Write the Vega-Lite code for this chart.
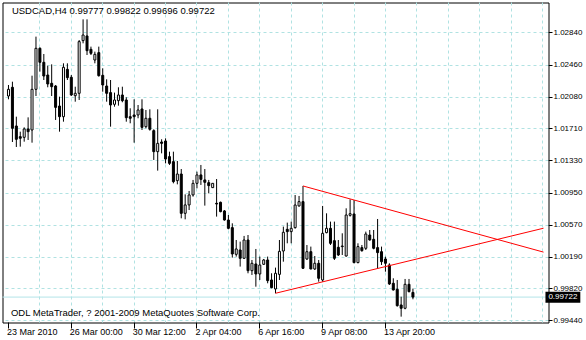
{
  "$schema": "https://vega.github.io/schema/vega-lite/v6.json",
  "width": 546,
  "height": 320,
  "autosize": {"type": "none"},
  "padding": {"left": 2.5, "top": 2.5, "right": 37.5, "bottom": 17.5},
  "background": "white",
  "config": {
    "view": {"stroke": "black", "strokeWidth": 1},
    "axis": {"translate": 0},
    "font": "Liberation Sans"
  },
  "resolve": {"axis": {"x": "independent", "y": "independent"}},
  "datasets": {
    "bars": [
      {"i":0,"o":1.02096,"h":1.02226,"l":1.02057,"c":1.02175},
      {"i":1,"o":1.02199,"h":1.02265,"l":1.01553,"c":1.01715},
      {"i":2,"o":1.01742,"h":1.01852,"l":1.01494,"c":1.01585},
      {"i":3,"o":1.01616,"h":1.01675,"l":1.01498,"c":1.01597},
      {"i":4,"o":1.01608,"h":1.01726,"l":1.01557,"c":1.01707},
      {"i":5,"o":1.01707,"h":1.01844,"l":1.01577,"c":1.01675},
      {"i":6,"o":1.01695,"h":1.02336,"l":1.01545,"c":1.02175},
      {"i":7,"o":1.02175,"h":1.02797,"l":1.02096,"c":1.02659},
      {"i":8,"o":1.02659,"h":1.02671,"l":1.02384,"c":1.02494},
      {"i":9,"o":1.02494,"h":1.02592,"l":1.02285,"c":1.02332},
      {"i":10,"o":1.02344,"h":1.02454,"l":1.02199,"c":1.02238},
      {"i":11,"o":1.02246,"h":1.0247,"l":1.02096,"c":1.02206},
      {"i":12,"o":1.02214,"h":1.02226,"l":1.01813,"c":1.01962},
      {"i":13,"o":1.01978,"h":1.02088,"l":1.01675,"c":1.01852},
      {"i":14,"o":1.01852,"h":1.02482,"l":1.01793,"c":1.02435},
      {"i":15,"o":1.02411,"h":1.02482,"l":1.02285,"c":1.02313},
      {"i":16,"o":1.02317,"h":1.02344,"l":1.02096,"c":1.02108},
      {"i":17,"o":1.021,"h":1.02206,"l":1.02029,"c":1.02128},
      {"i":18,"o":1.02128,"h":1.02757,"l":1.02049,"c":1.02738},
      {"i":19,"o":1.0275,"h":1.03001,"l":1.02718,"c":1.02816},
      {"i":20,"o":1.02805,"h":1.03001,"l":1.0258,"c":1.02631},
      {"i":21,"o":1.02647,"h":1.02679,"l":1.0258,"c":1.026},
      {"i":22,"o":1.02521,"h":1.0262,"l":1.02482,"c":1.02588},
      {"i":23,"o":1.02608,"h":1.02679,"l":1.02325,"c":1.02336},
      {"i":24,"o":1.0234,"h":1.02423,"l":1.02147,"c":1.02226},
      {"i":25,"o":1.02214,"h":1.02293,"l":1.02029,"c":1.02128},
      {"i":26,"o":1.02136,"h":1.02285,"l":1.01734,"c":1.0199},
      {"i":27,"o":1.01998,"h":1.02136,"l":1.0197,"c":1.02049},
      {"i":28,"o":1.02041,"h":1.02199,"l":1.01982,"c":1.02108},
      {"i":29,"o":1.02108,"h":1.02206,"l":1.02022,"c":1.02041},
      {"i":30,"o":1.02049,"h":1.02081,"l":1.01793,"c":1.0184},
      {"i":31,"o":1.01852,"h":1.01951,"l":1.01774,"c":1.01833},
      {"i":32,"o":1.01872,"h":1.02057,"l":1.01545,"c":1.01852},
      {"i":33,"o":1.01872,"h":1.0199,"l":1.01833,"c":1.01931},
      {"i":34,"o":1.01943,"h":1.02057,"l":1.01695,"c":1.01726},
      {"i":35,"o":1.01734,"h":1.01931,"l":1.01715,"c":1.01833},
      {"i":36,"o":1.01833,"h":1.01939,"l":1.01687,"c":1.01703},
      {"i":37,"o":1.01687,"h":1.01703,"l":1.01341,"c":1.01439},
      {"i":38,"o":1.01439,"h":1.01939,"l":1.01215,"c":1.01537},
      {"i":39,"o":1.01553,"h":1.01585,"l":1.01419,"c":1.01537},
      {"i":40,"o":1.01565,"h":1.01596,"l":1.01301,"c":1.01352},
      {"i":41,"o":1.0138,"h":1.01439,"l":1.01282,"c":1.01301},
      {"i":42,"o":1.01321,"h":1.01439,"l":1.01065,"c":1.01085},
      {"i":43,"o":1.01097,"h":1.01329,"l":1.01053,"c":1.01175},
      {"i":44,"o":1.01175,"h":1.01234,"l":1.00652,"c":1.00711},
      {"i":45,"o":1.00711,"h":1.00935,"l":1.0064,"c":1.0081},
      {"i":46,"o":1.0081,"h":1.00975,"l":1.0075,"c":1.00928},
      {"i":47,"o":1.00928,"h":1.01105,"l":1.00908,"c":1.01065},
      {"i":48,"o":1.01065,"h":1.01203,"l":1.01006,"c":1.01164},
      {"i":49,"o":1.01164,"h":1.01282,"l":1.01046,"c":1.01112},
      {"i":50,"o":1.01105,"h":1.01234,"l":1.00802,"c":1.01077},
      {"i":51,"o":1.01073,"h":1.01105,"l":1.00947,"c":1.01038},
      {"i":52,"o":1.01014,"h":1.01068,"l":1.0101,"c":1.01065},
      {"i":53,"o":1.00829,"h":1.01116,"l":1.00672,"c":1.00821},
      {"i":54,"o":1.00841,"h":1.00849,"l":1.00723,"c":1.00731},
      {"i":55,"o":1.00739,"h":1.0075,"l":1.00625,"c":1.00632},
      {"i":56,"o":1.00632,"h":1.00691,"l":1.00522,"c":1.00534},
      {"i":57,"o":1.00542,"h":1.00593,"l":1.00188,"c":1.00231},
      {"i":58,"o":1.00227,"h":1.00396,"l":1.002,"c":1.0029},
      {"i":59,"o":1.00278,"h":1.00377,"l":1.00082,"c":1.0018},
      {"i":60,"o":1.0018,"h":1.00444,"l":1.00172,"c":1.00396},
      {"i":61,"o":1.00396,"h":1.00455,"l":1.00003,"c":1.00034},
      {"i":62,"o":1.00034,"h":1.0016,"l":0.99983,"c":1.00121},
      {"i":63,"o":1.00113,"h":1.0029,"l":0.99845,"c":0.99995},
      {"i":64,"o":0.99995,"h":1.002,"l":0.99924,"c":1.00101},
      {"i":65,"o":1.00109,"h":1.00172,"l":1.00101,"c":1.0016},
      {"i":66,"o":1.0016,"h":1.002,"l":0.99885,"c":0.99916},
      {"i":67,"o":0.99924,"h":1.00003,"l":0.99826,"c":0.99834},
      {"i":68,"o":0.99818,"h":1.0007,"l":0.99767,"c":1.00003},
      {"i":69,"o":0.9999,"h":1.00396,"l":0.99924,"c":1.00262},
      {"i":70,"o":1.00266,"h":1.00554,"l":1.0014,"c":1.00487},
      {"i":71,"o":1.00522,"h":1.00601,"l":1.00357,"c":1.00495},
      {"i":72,"o":1.00495,"h":1.00613,"l":1.00357,"c":1.00534},
      {"i":73,"o":1.00542,"h":1.00927,"l":1.0053,"c":1.00809},
      {"i":74,"o":1.00798,"h":1.00916,"l":1.0079,"c":1.00849},
      {"i":75,"o":1.00849,"h":1.01034,"l":1.00054,"c":1.00062},
      {"i":76,"o":1.00172,"h":1.00337,"l":1.0016,"c":1.00258},
      {"i":77,"o":1.00258,"h":1.00318,"l":1.0005,"c":1.00054},
      {"i":78,"o":1.00054,"h":1.00207,"l":1.00042,"c":1.00121},
      {"i":79,"o":1.00121,"h":1.0016,"l":0.99904,"c":0.99944},
      {"i":80,"o":0.99924,"h":1.00798,"l":0.99904,"c":1.00475},
      {"i":81,"o":1.00483,"h":1.00711,"l":1.00475,"c":1.00534},
      {"i":82,"o":1.00534,"h":1.00613,"l":1.00337,"c":1.00357},
      {"i":83,"o":1.00388,"h":1.00613,"l":1.0016,"c":1.0018},
      {"i":84,"o":1.0031,"h":1.00396,"l":1.00207,"c":1.00219},
      {"i":85,"o":1.00318,"h":1.00475,"l":1.00219,"c":1.00325},
      {"i":86,"o":1.00207,"h":1.0077,"l":1.002,"c":1.00691},
      {"i":87,"o":1.00687,"h":1.00876,"l":1.00672,"c":1.00707},
      {"i":88,"o":1.00703,"h":1.00868,"l":1.00121,"c":1.00129},
      {"i":89,"o":1.00129,"h":1.00357,"l":1.00121,"c":1.00318},
      {"i":90,"o":1.00306,"h":1.00337,"l":1.00258,"c":1.0027},
      {"i":91,"o":1.00298,"h":1.00495,"l":1.00278,"c":1.00467},
      {"i":92,"o":1.00455,"h":1.00514,"l":1.00388,"c":1.00396},
      {"i":93,"o":1.00404,"h":1.00514,"l":1.00286,"c":1.00298},
      {"i":94,"o":1.00306,"h":1.00644,"l":1.00062,"c":1.00247},
      {"i":95,"o":1.00258,"h":1.00318,"l":1.00101,"c":1.0014},
      {"i":96,"o":1.00172,"h":1.00199,"l":1.00022,"c":1.00121},
      {"i":97,"o":1.00101,"h":1.00121,"l":0.99865,"c":0.99877},
      {"i":98,"o":0.99885,"h":0.99944,"l":0.998,"c":0.99806},
      {"i":99,"o":0.99814,"h":0.99924,"l":0.99609,"c":0.99621},
      {"i":100,"o":0.99629,"h":0.99727,"l":0.99491,"c":0.9959},
      {"i":101,"o":0.9959,"h":0.99936,"l":0.99578,"c":0.99873},
      {"i":102,"o":0.99873,"h":0.99936,"l":0.99778,"c":0.99786},
      {"i":103,"o":0.99777,"h":0.99822,"l":0.99696,"c":0.99722}
    ],
    "trend": [
      {"g":"upper","i":75,"p":1.01034},
      {"g":"upper","i":136.25,"p":1.00253},
      {"g":"lower","i":68,"p":0.99767},
      {"g":"lower","i":136.25,"p":1.00535}
    ],
    "info": [
      {"kind":"header","label":"USDCAD,H4 0.99777 0.99822 0.99696 0.99722"},
      {"kind":"copyright","label":"ODL MetaTrader, ? 2001-2009 MetaQuotes Software Corp."}
    ],
    "bid": [{"price":0.99722,"label":"0.99722"}]
  },
  "layer": [
    {
      "data": {"name": "bid"},
      "mark": {"type": "rule", "color": "#b4e4e8", "strokeWidth": 1},
      "encoding": {
        "y": {"field": "price", "type": "quantitative", "axis": null, "scale": {"domain": [0.99422, 1.032], "nice": false, "zero": false}}
      }
    },
    {
      "data": {"name": "bars"},
      "mark": {"type": "rule", "color": "black", "strokeWidth": 1},
      "encoding": {
        "x": {"field": "i", "type": "quantitative", "scale": {"domain": [-0.25, 136.25], "nice": false, "zero": false},
          "axis": {
            "orient": "bottom", "title": null, "domain": false,
            "values": [0,8,16,24,32,40,48,56,64,72,80,88,96,104,112,120,128,136],
            "grid": true, "gridDash": [3,3], "gridWidth": 1,
            "gridColor": {"condition": {"test": "datum.value == 0", "value": "transparent"}, "value": "#b0e2e2"},
            "tickSize": 6, "tickWidth": 1,
            "tickColor": {"condition": {"test": "datum.value % 16 == 0 && datum.value <= 96", "value": "black"}, "value": "transparent"},
            "labelExpr": "datum.value == 0 ? '23 Mar 2010' : datum.value == 16 ? '26 Mar 00:00' : datum.value == 32 ? '30 Mar 12:00' : datum.value == 48 ? '2 Apr 04:00' : datum.value == 64 ? '6 Apr 16:00' : datum.value == 80 ? '9 Apr 08:00' : datum.value == 96 ? '13 Apr 20:00' : ''",
            "labelAlign": "left", "labelOffset": -1.5, "labelPadding": -1, "labelFontSize": 9, "labelColor": "black",
            "labelOverlap": false, "labelFlush": false, "labelBound": false
          }
        },
        "y": {"field": "l", "type": "quantitative",
          "axis": {
            "orient": "right", "title": null, "domain": false,
            "values": [1.0284,1.0246,1.0208,1.0171,1.0133,1.0095,1.0057,1.0019,0.9982,0.9944],
            "format": ".5f",
            "grid": true, "gridDash": [3,3], "gridWidth": 1, "gridColor": "#b0e2e2",
            "tickSize": 4, "tickColor": "black", "tickWidth": 1,
            "labelFontSize": 8, "labelColor": "black", "labelPadding": 1, "labelBaseline": "middle",
            "labelOverlap": false, "labelBound": false
          }
        },
        "y2": {"field": "h"}
      }
    },
    {
      "data": {"name": "bars"},
      "mark": {"type": "bar", "size": 2, "stroke": "black", "strokeWidth": 1},
      "encoding": {
        "x": {"field": "i", "type": "quantitative", "axis": null},
        "y": {"field": "o", "type": "quantitative", "axis": null},
        "y2": {"field": "c"},
        "fill": {"condition": {"test": "datum.c >= datum.o", "value": "white"}, "value": "black"}
      }
    },
    {
      "data": {"name": "trend"},
      "mark": {"type": "line", "color": "#ff0000", "strokeWidth": 1},
      "encoding": {
        "x": {"field": "i", "type": "quantitative", "axis": null},
        "y": {"field": "p", "type": "quantitative", "axis": null},
        "detail": {"field": "g"}
      }
    },
    {
      "data": {"name": "info"},
      "transform": [{"filter": "datum.kind == 'header'"}],
      "mark": {"type": "text", "align": "left", "baseline": "alphabetic", "fontSize": 9.5, "color": "black"},
      "encoding": {
        "x": {"datum": 0.875, "type": "quantitative", "axis": null},
        "y": {"datum": 1.03064, "type": "quantitative", "axis": null},
        "text": {"field": "label"}
      }
    },
    {
      "data": {"name": "info"},
      "transform": [{"filter": "datum.kind == 'copyright'"}],
      "mark": {"type": "text", "align": "left", "baseline": "alphabetic", "fontSize": 9.5, "color": "black"},
      "encoding": {
        "x": {"datum": 0.625, "type": "quantitative", "axis": null},
        "y": {"datum": 0.99499, "type": "quantitative", "axis": null},
        "text": {"field": "label"}
      }
    },
    {
      "data": {"name": "bid"},
      "mark": {"type": "rect", "color": "black"},
      "encoding": {
        "x": {"datum": 136.75, "type": "quantitative", "axis": null},
        "x2": {"datum": 145.625},
        "y": {"datum": 0.99786, "type": "quantitative", "axis": null},
        "y2": {"datum": 0.99656}
      }
    },
    {
      "data": {"name": "bid"},
      "mark": {"type": "text", "align": "left", "baseline": "middle", "fontSize": 8, "color": "white"},
      "encoding": {
        "x": {"datum": 137.5, "type": "quantitative", "axis": null},
        "y": {"field": "price", "type": "quantitative", "axis": null},
        "text": {"field": "label"}
      }
    }
  ]
}
